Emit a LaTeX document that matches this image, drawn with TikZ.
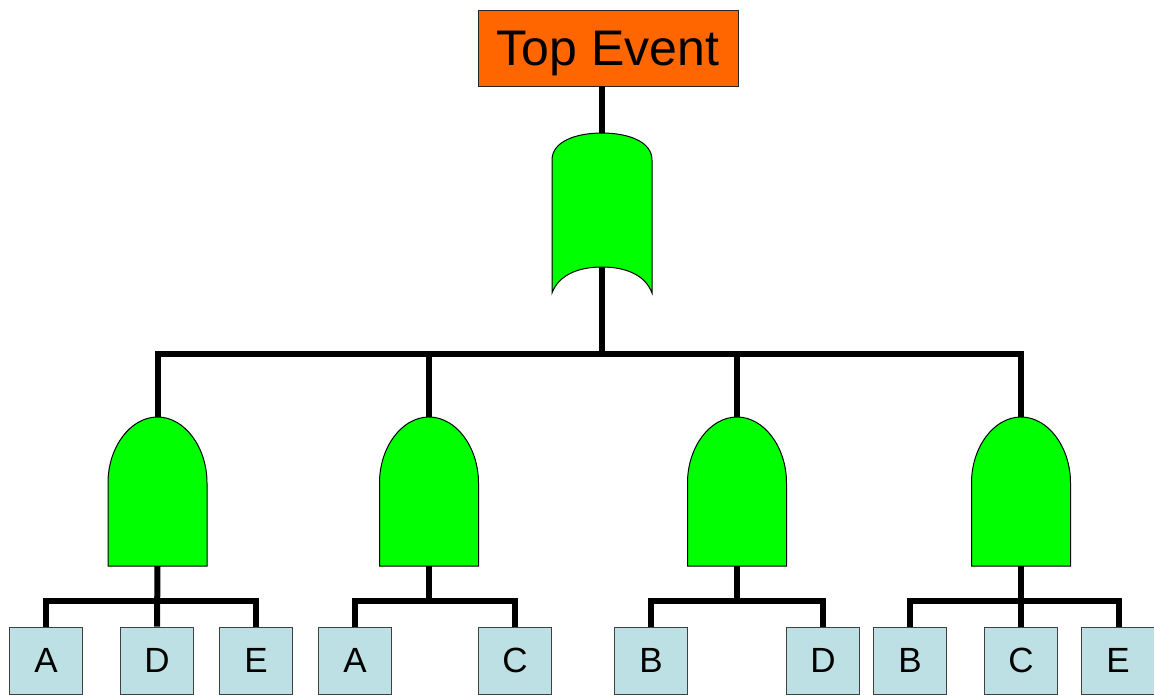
\documentclass[tikz,border=0pt]{standalone}
\usepackage{fontspec}
\setmainfont{Liberation Sans}
\definecolor{topfill}{RGB}{255,102,0}
\definecolor{gatefill}{RGB}{0,255,0}
\definecolor{basicfill}{RGB}{189,224,228}
\begin{document}
\begin{tikzpicture}[x=1pt,y=-1pt,
  wire/.style={line width=6pt,line join=miter},
  gate/.style={fill=gatefill,draw=black,line width=1pt},
  topbox/.style={draw=black!85,line width=0.8pt,fill=topfill,minimum width=260pt,
    minimum height=76pt,inner sep=0pt,text depth=0pt,font=\fontsize{50}{50}\selectfont},
  basic/.style={draw=black!75,line width=0.8pt,fill=basicfill,minimum width=73pt,
    minimum height=67pt,inner sep=0pt,font=\fontsize{35}{35}\selectfont},
  pics/andgate/.style={code={
    \draw[gate] (-49.5,149) -- (-49.5,66)
      .. controls (-49.5,30) and (-27,0) .. (0,0)
      .. controls (27,0) and (49.5,30) .. (49.5,66) -- (49.5,149) -- cycle;
    \coordinate (-out) at (0,0);
    \coordinate (-in) at (0,149);}},
  pics/orgate/.style={code={
    \draw[gate] (-50,160) -- (-50,27)
      .. controls (-50,8) and (-25,0) .. (0,0)
      .. controls (25,0) and (50,8) .. (50,27) -- (50,160)
      .. controls (43,141) and (22,134) .. (0,134)
      .. controls (-22,134) and (-43,141) .. (-50,160) -- cycle;
    \coordinate (-out) at (0,0);
    \coordinate (-in) at (0,134);}}
]
\useasboundingbox (0,0) rectangle (1154,696);

% top event
\node[topbox] (top) at (608,48) {Top Event};

% bus levels
\coordinate (bus) at (602,354);
\coordinate (lowbus) at (0,601);

% basic events
\node[basic] (a1) at (46,660.5) {A};
\node[basic] (d1) at (157,660.5) {D};
\node[basic] (e1) at (256,660.5) {E};
\node[basic] (a2) at (355,660.5) {A};
\node[basic] (c2) at (515,660.5) {C};
\node[basic] (b3) at (651,660.5) {B};
\node[basic] (d3) at (823,660.5) {D};
\node[basic] (b4) at (910,660.5) {B};
\node[basic] (c4) at (1021,660.5) {C};
\node[basic] (e4) at (1118,660.5) {E};

% gate anchor points (shapes drawn last)
\coordinate (or-out) at (602,133);
\coordinate (or-in) at (602,267);
\foreach \n/\x in {g1/157.5,g2/429,g3/737,g4/1021}{
  \coordinate (\n-out) at (\x,417);
  \coordinate (\n-in) at (\x,566);
}

% wiring: top level
\draw[wire] (top.south -| or-out) -- (or-out);
\draw[wire] (or-in) -- (bus);
\draw[wire] (g1-out) -- (g1-out |- bus) -- (g4-out |- bus) -- (g4-out);
\draw[wire] (g2-out) -- (g2-out |- bus);
\draw[wire] (g3-out) -- (g3-out |- bus);

% wiring: gate inputs
\draw[wire] (a1.north) -- (a1.north |- lowbus) -- (e1.north |- lowbus) -- (e1.north);
\draw[wire] (g1-in) -- (d1.north);
\draw[wire] (a2.north) -- (a2.north |- lowbus) -- (c2.north |- lowbus) -- (c2.north);
\draw[wire] (g2-in) -- (g2-in |- lowbus);
\draw[wire] (b3.north) -- (b3.north |- lowbus) -- (d3.north |- lowbus) -- (d3.north);
\draw[wire] (g3-in) -- (g3-in |- lowbus);
\draw[wire] (b4.north) -- (b4.north |- lowbus) -- ([xshift=1pt]e4.north |- lowbus) -- ([xshift=1pt]e4.north);
\draw[wire] (g4-in) -- (c4.north);

% gates
\pic (or) at (or-out) {orgate};
\pic (g1) at (g1-out) {andgate};
\pic (g2) at (g2-out) {andgate};
\pic (g3) at (g3-out) {andgate};
\pic (g4) at (g4-out) {andgate};
\end{tikzpicture}
\end{document}
